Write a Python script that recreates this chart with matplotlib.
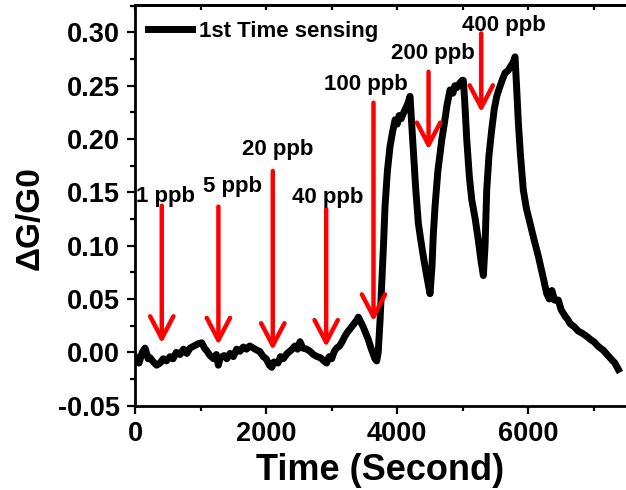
import numpy as np
import matplotlib
matplotlib.use("Agg")
import matplotlib.pyplot as plt
from matplotlib.ticker import MultipleLocator, FormatStrFormatter

plt.rcParams['font.family'] = ['Liberation Sans', 'DejaVu Sans']
plt.rcParams['font.weight'] = 'bold'
plt.rcParams['axes.unicode_minus'] = False

#%% data
time_s = [0, 60, 110, 153, 200, 229, 280, 330, 381, 430, 480, 534, 580, 630, 687, 740,
          790, 839, 900, 960, 1018, 1060, 1100, 1144, 1200, 1240, 1271, 1300, 1360, 1400,
          1449, 1500, 1550, 1600, 1652, 1700, 1750, 1805, 1860, 1900, 1957, 2000, 2050,
          2085, 2120, 2180, 2220, 2262, 2320, 2380, 2440, 2480, 2517, 2560, 2620, 2670,
          2720, 2780, 2830, 2880, 2924, 2960, 3000, 3040, 3077, 3120, 3160, 3200, 3230,
          3280, 3330, 3380, 3407, 3440, 3480, 3520, 3559, 3600, 3636, 3660, 3687, 3710,
          3738, 3760, 3790, 3814, 3850, 3890, 3930, 3967, 4000, 4030, 4060, 4093, 4130,
          4160, 4195, 4215, 4246, 4280, 4322, 4360, 4398, 4440, 4480, 4500, 4530, 4550,
          4577, 4620, 4679, 4720, 4760, 4806, 4850, 4880, 4908, 4950, 4990, 5008, 5030,
          5061, 5100, 5137, 5190, 5237, 5280, 5314, 5340, 5365, 5400, 5442, 5480, 5518,
          5560, 5600, 5645, 5690, 5730, 5770, 5797, 5820, 5848, 5880, 5924, 5970, 6026,
          6090, 6153, 6220, 6281, 6320, 6360, 6400, 6458, 6500, 6560, 6600, 6636, 6700,
          6760, 6820, 6891, 6950, 7000, 7060, 7100, 7144, 7200, 7260, 7320, 7373]
dG_G0 = [-0.004, -0.010, 0.000, 0.004, -0.006, -0.005, -0.009, -0.012, -0.010, -0.006,
         -0.008, -0.004, -0.006, 0.000, -0.002, 0.003, -0.001, 0.004, 0.006, 0.008,
         0.009, 0.004, 0.001, -0.003, -0.006, -0.002, -0.012, -0.005, -0.003, -0.006,
         -0.001, -0.004, 0.003, 0.001, 0.005, 0.003, 0.006, 0.004, 0.002, 0.001,
         -0.004, -0.006, -0.012, -0.014, -0.009, -0.010, -0.004, -0.006, -0.001, 0.002,
         0.006, 0.003, 0.010, 0.004, 0.003, 0.001, -0.002, -0.004, -0.005, -0.008,
         -0.010, -0.004, -0.006, 0.001, 0.004, 0.006, 0.010, 0.015, 0.018, 0.022,
         0.026, 0.030, 0.033, 0.029, 0.024, 0.018, 0.012, 0.004, -0.002, -0.006,
         -0.008, 0.000, 0.030, 0.060, 0.100, 0.137, 0.170, 0.193, 0.207, 0.218,
         0.214, 0.222, 0.219, 0.224, 0.229, 0.233, 0.240, 0.220, 0.190, 0.155,
         0.121, 0.105, 0.090, 0.075, 0.062, 0.055, 0.080, 0.110, 0.137, 0.170,
         0.199, 0.215, 0.232, 0.246, 0.243, 0.250, 0.248, 0.252, 0.255, 0.255,
         0.235, 0.199, 0.165, 0.143, 0.125, 0.105, 0.085, 0.072, 0.100, 0.152,
         0.185, 0.209, 0.228, 0.240, 0.248, 0.255, 0.262, 0.264, 0.268, 0.272,
         0.277, 0.250, 0.215, 0.185, 0.152, 0.135, 0.121, 0.105, 0.090, 0.072,
         0.055, 0.050, 0.058, 0.049, 0.049, 0.040, 0.034, 0.031, 0.027, 0.024,
         0.020, 0.018, 0.015, 0.012, 0.010, 0.006, 0.004, 0.002, -0.002, -0.006,
         -0.010, -0.016]

labels = ['1 ppb', '5 ppb', '20 ppb', '40 ppb', '100 ppb', '200 ppb', '400 ppb']
arrow_x = [408, 1272, 2102, 2916, 3638, 4478, 5282]
arrow_top = [0.1375, 0.1366, 0.170, 0.134, 0.234, 0.263, 0.299]
arrow_tip = [0.0085, 0.007, 0.002, 0.005, 0.029, 0.190, 0.225]
label_x = [458, 1480, 2174, 2944, 3522, 4546, 5625]
label_y = [0.141, 0.150, 0.185, 0.140, 0.246, 0.275, 0.301]

#%%
fig = plt.figure(figsize=(6.26, 4.9), dpi=100)
ax = fig.add_axes([0.2157, 0.172, 0.7843, 0.8178])

ax.plot(time_s, dG_G0, color='black', lw=5, label='1st Time sensing')

for i in range(len(labels)):
    ax.annotate('', xy=(arrow_x[i], arrow_tip[i]), xytext=(arrow_x[i], arrow_top[i]),
                arrowprops=dict(arrowstyle='->, head_length=0.8, head_width=0.42',
                                color='red', lw=3.2, mutation_scale=20,
                                shrinkA=0, shrinkB=0))
    ax.text(label_x[i], label_y[i], labels[i], ha='center', va='baseline',
            fontsize=16, fontweight='bold')

ax.set_xlim(0, 7490)
ax.set_ylim(-0.05, 0.3256)
ax.xaxis.set_major_locator(MultipleLocator(2000))
ax.xaxis.set_minor_locator(MultipleLocator(1000))
ax.yaxis.set_major_locator(MultipleLocator(0.05))
ax.yaxis.set_minor_locator(MultipleLocator(0.025))
ax.yaxis.set_major_formatter(FormatStrFormatter('%.2f'))

ax.tick_params(which='major', direction='out', length=6, width=1.6, labelsize=19.5, pad=5)
ax.tick_params(which='minor', direction='out', length=3.5, width=1.6)
ax.tick_params(top=False, right=False)
for s in ['left', 'bottom', 'top']:
    ax.spines[s].set_linewidth(2)
ax.spines['right'].set_visible(False)

secax = ax.secondary_xaxis('top')
secax.set_xticks(np.arange(0, 8000, 1000))
secax.tick_params(direction='in', length=3.5, width=1.6, labeltop=False)
secax.spines['top'].set_linewidth(2)

ax.set_xlabel('Time (Second)', fontsize=26, fontweight='bold', labelpad=4)
ax.set_ylabel('ΔG/G0', fontsize=24, fontweight='bold')
ax.yaxis.set_label_coords(-0.183, 0.468)

ax.legend(loc='upper left', bbox_to_anchor=(0.0265, 0.96), frameon=False,
          fontsize=16, handlelength=2.0, handletextpad=0.3,
          borderpad=0, borderaxespad=0)

plt.savefig('out.png', dpi=100)
